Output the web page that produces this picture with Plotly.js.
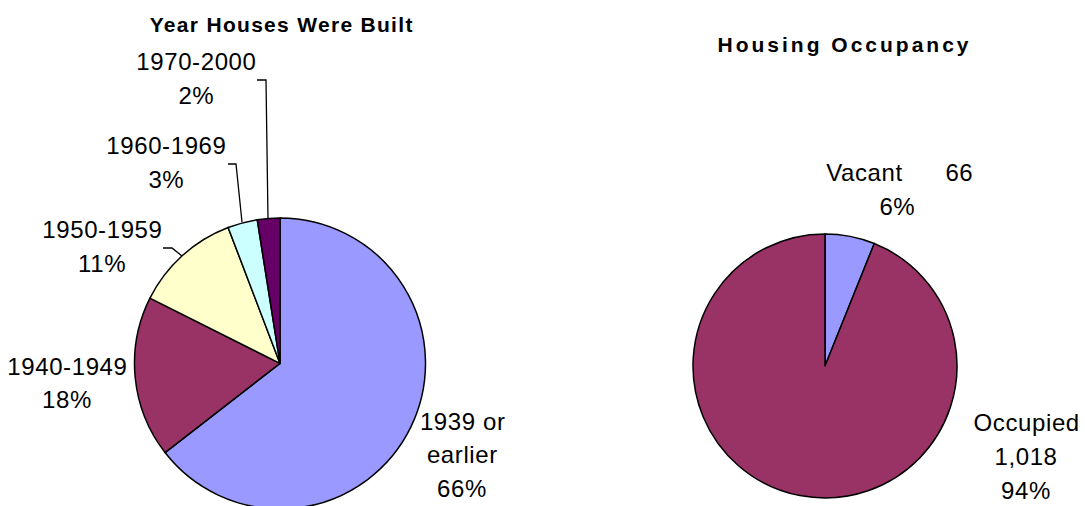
<!DOCTYPE html>
<html>
<head>
<meta charset="utf-8">
<script src="https://cdn.plot.ly/plotly-3.0.1.min.js"></script>
<style>
  html, body { margin:0; padding:0; background:#fff; overflow:hidden; }
  #chart { width:1085px; height:520px; }
  g.annotation text.annotation-text { letter-spacing: 0.6px; }
  g.annotation[data-index="0"] text.annotation-text { letter-spacing: 1.3px; }
  g.annotation[data-index="1"] text.annotation-text { letter-spacing: 3px; }
</style>
</head>
<body>
<div id="chart"></div>
<script>
// ---- data ----
const yearTitle = 'Year Houses Were Built';
const yearCategories = ['1939 or|earlier', '1940-1949', '1950-1959', '1960-1969', '1970-2000'];
// slice shares (percent of units)
const yearShare = [64.5, 17.9, 11.8, 3.3, 2.5];
// percentages as printed on the data labels
const yearLabelPct = [66, 18, 11, 3, 2];
const yearColors = ['#9999FF', '#993366', '#FFFFCC', '#CCFFFF', '#660066'];

const occTitle = 'Housing Occupancy';
const occCategories = ['Vacant', 'Occupied'];
const occCounts = [66, 1018];
const occColors = ['#9999FF', '#993366'];

// ---- layout helpers (pixel -> paper) ----
const W = 1085, H = 520;
const px = x => x / W;
const py = y => 1 - y / H;
const FONT = 'Liberation Sans, Arial, sans-serif';

const occTotal = occCounts.reduce((a, b) => a + b, 0);
const occPct = occCounts.map(v => Math.round(100 * v / occTotal));

// label line placements (pixel centers)
const yearLabelPos = [
  {x: 462, ys: [421, 454, 488]},
  {x: 67,  ys: [366, 399]},
  {x: 102, ys: [229, 263]},
  {x: 166, ys: [145, 179]},
  {x: 196, ys: [61, 95]}
];

const annotations = [];
function addText(text, x, y, size, bold) {
  annotations.push({
    text: bold ? '<b>' + text + '</b>' : text,
    x: px(x), y: py(y), xref: 'paper', yref: 'paper',
    xanchor: 'center', yanchor: 'middle', showarrow: false,
    font: {family: FONT, size: size, color: '#000'}
  });
}
addText(yearTitle, 281, 24, 21, true);
addText(occTitle, 844, 44, 21, true);

yearCategories.forEach((cat, i) => {
  const lines = cat.split('|').concat([yearLabelPct[i] + '%']);
  const pos = yearLabelPos[i];
  lines.forEach((ln, j) => addText(ln, pos.x, pos.ys[j], 24, false));
});

// Vacant label: "Vacant      66" / "6%"
addText(occCategories[0], 864, 173, 24, false);
addText(String(occCounts[0]), 959, 173, 24, false);
addText(occPct[0] + '%', 897, 207, 24, false);
// Occupied label
addText(occCategories[1], 1026, 422, 24, false);
addText(occCounts[1].toLocaleString('en-US'), 1026, 456, 24, false);
addText(occPct[1] + '%', 1026, 490, 24, false);

// leader lines
function leader(pts) {
  return {
    type: 'path', xref: 'paper', yref: 'paper',
    path: pts.map((p, k) => (k ? 'L' : 'M') + px(p[0]) + ',' + py(p[1])).join(' '),
    line: {color: '#000', width: 1.3}
  };
}
const shapes = [
  leader([[257, 80], [266, 80], [268, 219]]),
  leader([[228, 164], [236, 164], [242, 222]]),
  leader([[163, 248], [172, 248], [182, 256]])
];

const traces = [
  {
    type: 'pie', labels: yearCategories.map(c => c.replace('|', ' ')), values: yearShare,
    marker: {colors: yearColors, line: {color: '#000', width: 1.5}},
    sort: false, direction: 'clockwise', rotation: 0,
    textinfo: 'none', hoverinfo: 'none',
    domain: {x: [px(134.5), px(425.5)], y: [py(508.9), py(217.9)]}
  },
  {
    type: 'pie', labels: occCategories, values: occCounts,
    marker: {colors: occColors, line: {color: '#000', width: 1.5}},
    sort: false, direction: 'clockwise', rotation: 0,
    textinfo: 'none', hoverinfo: 'none',
    domain: {x: [px(693), px(957)], y: [py(498), py(234)]}
  }
];

const layout = {
  width: W, height: H,
  margin: {l: 0, r: 0, t: 0, b: 0},
  paper_bgcolor: '#fff', plot_bgcolor: '#fff',
  showlegend: false,
  annotations: annotations,
  shapes: shapes,
  font: {family: FONT, color: '#000'}
};

Plotly.newPlot('chart', traces, layout, {displayModeBar: false, staticPlot: true});
</script>
</body>
</html>
